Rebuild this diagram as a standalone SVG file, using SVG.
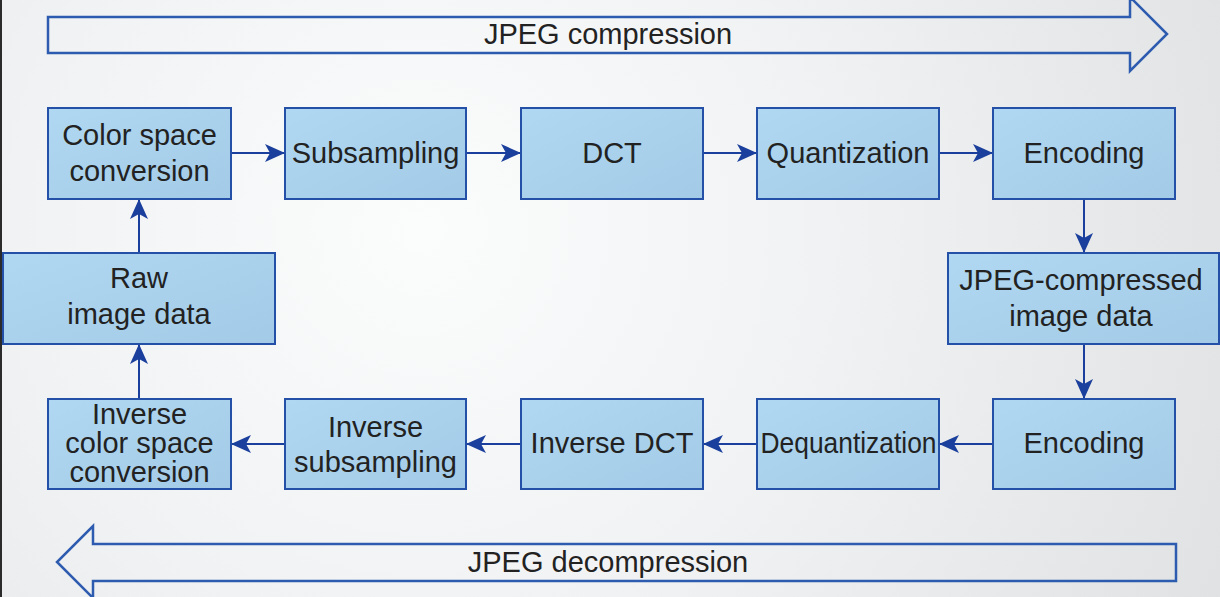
<svg xmlns="http://www.w3.org/2000/svg" width="1220" height="597" viewBox="0 0 1220 597">
  <defs>
    <radialGradient id="bg" cx="420" cy="230" r="900" gradientUnits="userSpaceOnUse">
      <stop offset="0" stop-color="#fbfcfc"/>
      <stop offset="0.45" stop-color="#f1f2f3"/>
      <stop offset="1" stop-color="#dfe1e2"/>
    </radialGradient>
    <linearGradient id="boxfill" x1="0" y1="0" x2="1" y2="1">
      <stop offset="0" stop-color="#b0d8f2"/>
      <stop offset="1" stop-color="#a3cbe7"/>
    </linearGradient>
    <marker id="ah" markerUnits="userSpaceOnUse" markerWidth="20" markerHeight="18" refX="20" refY="9" orient="auto">
      <path d="M0,0 L20,9 L0,18 L5,9 Z" fill="#1b3f9c"/>
    </marker>
    <style>
      .box { fill: url(#boxfill); stroke: #2450a8; stroke-width: 2; }
      .lbl { font-family: "Liberation Sans", Arial, sans-serif; font-size: 29px; fill: #222; text-anchor: middle; }
      .conn { stroke: #1b3f9c; stroke-width: 2; fill: none; marker-end: url(#ah); }
      .big { fill: none; stroke: #2d5bb0; stroke-width: 2.5; stroke-linejoin: miter; }
    </style>
  </defs>

  <rect x="0" y="0" width="1220" height="597" fill="url(#bg)"/>
  <rect x="0" y="0" width="2" height="597" fill="#2b2b2b"/>

  <g id="compression-arrow">
    <path class="big" d="M48,17 H1130 V-3 L1167,34 L1130,71 V53 H48 Z"/>
    <text class="lbl" x="608" y="44">JPEG compression</text>
  </g>
  <g id="decompression-arrow">
    <path class="big" d="M1176,544 H93 V526 L57,562 L93,598 V581 H1176 Z"/>
    <text class="lbl" x="608" y="572">JPEG decompression</text>
  </g>

  <g id="connectors">
    <line class="conn" x1="231" y1="153" x2="285" y2="153"/>
    <line class="conn" x1="466" y1="153" x2="521" y2="153"/>
    <line class="conn" x1="703" y1="153" x2="757" y2="153"/>
    <line class="conn" x1="939" y1="153" x2="993" y2="153"/>
    <line class="conn" x1="1084" y1="199" x2="1084" y2="253"/>
    <line class="conn" x1="1084" y1="344" x2="1084" y2="399"/>
    <line class="conn" x1="993" y1="444" x2="939" y2="444"/>
    <line class="conn" x1="757" y1="444" x2="703" y2="444"/>
    <line class="conn" x1="521" y1="444" x2="466" y2="444"/>
    <line class="conn" x1="285" y1="444" x2="231" y2="444"/>
    <line class="conn" x1="139" y1="399" x2="139" y2="344"/>
    <line class="conn" x1="139" y1="253" x2="139" y2="199"/>
  </g>

  <g id="color-space-conversion">
    <rect class="box" x="48" y="108" width="183" height="91"/>
    <text class="lbl" x="139.5" y="145">Color space</text>
    <text class="lbl" x="139.5" y="181">conversion</text>
  </g>
  <g id="subsampling">
    <rect class="box" x="285" y="108" width="181" height="91"/>
    <text class="lbl" x="375.5" y="163">Subsampling</text>
  </g>
  <g id="dct">
    <rect class="box" x="521" y="108" width="182" height="91"/>
    <text class="lbl" x="612" y="163">DCT</text>
  </g>
  <g id="quantization">
    <rect class="box" x="757" y="108" width="182" height="91"/>
    <text class="lbl" x="848" y="163">Quantization</text>
  </g>
  <g id="encoding-top">
    <rect class="box" x="993" y="108" width="182" height="91"/>
    <text class="lbl" x="1084" y="163">Encoding</text>
  </g>
  <g id="raw-image-data">
    <rect class="box" x="3" y="253" width="272" height="91"/>
    <text class="lbl" x="139" y="288">Raw</text>
    <text class="lbl" x="139" y="324">image data</text>
  </g>
  <g id="jpeg-compressed">
    <rect class="box" x="948" y="253" width="271" height="91"/>
    <text class="lbl" x="1081" y="290">JPEG-compressed</text>
    <text class="lbl" x="1081" y="326">image data</text>
  </g>
  <g id="encoding-bottom">
    <rect class="box" x="993" y="399" width="182" height="90"/>
    <text class="lbl" x="1084" y="453">Encoding</text>
  </g>
  <g id="dequantization">
    <rect class="box" x="757" y="399" width="182" height="90"/>
    <text class="lbl" x="848.5" y="453" textLength="176" lengthAdjust="spacingAndGlyphs">Dequantization</text>
  </g>
  <g id="inverse-dct">
    <rect class="box" x="521" y="399" width="182" height="90"/>
    <text class="lbl" x="612" y="453">Inverse DCT</text>
  </g>
  <g id="inverse-subsampling">
    <rect class="box" x="285" y="399" width="181" height="90"/>
    <text class="lbl" x="375.5" y="437">Inverse</text>
    <text class="lbl" x="375.5" y="472">subsampling</text>
  </g>
  <g id="inverse-color-space-conversion">
    <rect class="box" x="48" y="399" width="183" height="90"/>
    <text class="lbl" x="139.5" y="424">Inverse</text>
    <text class="lbl" x="139.5" y="453">color space</text>
    <text class="lbl" x="139.5" y="482">conversion</text>
  </g>
</svg>
